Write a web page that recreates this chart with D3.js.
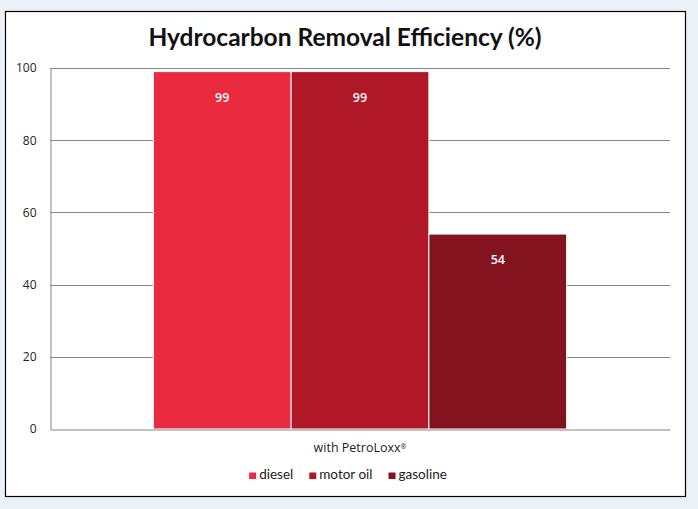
<!DOCTYPE html>
<html><head><meta charset="utf-8">
<script src="https://cdn.jsdelivr.net/npm/d3@7"></script>
<style>
html,body{margin:0;padding:0;background:#eaf1f7;}
svg{display:block;}
</style></head>
<body>
<script>
const categories = ["with PetroLoxx®"];
const seriesNames = ["diesel", "motor oil", "gasoline"];
const seriesValues = [99, 99, 54];
const seriesColors = ["#ea2a3f", "#b01727", "#83131f"];
const yTicks = [0, 20, 40, 60, 80, 100];
const title = "Hydrocarbon Removal Efficiency (%)";

const W = 698, H = 509;
const svg = d3.select("body").append("svg").attr("width", W).attr("height", H);

// chart frame
svg.append("rect").attr("x", 5.5).attr("y", 11.5).attr("width", 680).attr("height", 485)
  .attr("fill", "#ffffff").attr("stroke", "#000").attr("stroke-width", 1.2);

const plot = {left: 50, right: 670, top: 68, bottom: 429};

const y = d3.scaleLinear().domain([0, 100]).range([plot.bottom, plot.top]);
const x0 = d3.scaleBand().domain(categories).range([plot.left, plot.right]).paddingInner(0).paddingOuter(0.25);
const x1 = d3.scaleBand().domain(seriesNames).range([0, x0.bandwidth()]);

// title
svg.append("text").attr("x", 345).attr("y", 46).attr("text-anchor", "middle")
  .attr("font-family", "Lato, sans-serif").attr("font-weight", "bold").attr("font-size", 24.5)
  .attr("fill", "#111").text(title);

// grid
const grid = svg.append("g");
grid.selectAll("line").data(yTicks.filter(d => d > 0)).join("line")
  .attr("x1", plot.left).attr("x2", plot.right)
  .attr("y1", d => Math.round(y(d)) + 0.5).attr("y2", d => Math.round(y(d)) + 0.5)
  .attr("stroke", "#878787").attr("stroke-width", 1);

// y axis
const yAxis = d3.axisLeft(y).tickValues(yTicks).tickSize(0).tickPadding(14);
const ga = svg.append("g").attr("transform", `translate(${plot.left + 0.5},0)`).call(yAxis);
ga.select(".domain").attr("stroke", "#878787");
ga.selectAll("text").attr("font-family", "'Open Sans', sans-serif").attr("font-size", 12).attr("fill", "#222");

// bars
svg.append("g").selectAll("rect").data(seriesNames.map((s, i) => ({s, v: seriesValues[i], c: seriesColors[i]})))
  .join("rect")
  .attr("x", d => x0(categories[0]) + x1(d.s))
  .attr("y", d => y(d.v))
  .attr("width", x1.bandwidth())
  .attr("height", d => y(0) - y(d.v))
  .attr("fill", d => d.c)
  .attr("stroke", "#ffffff").attr("stroke-width", 1);

// x axis baseline
const xAxis = d3.axisBottom(x0).tickSize(0).tickPadding(14);
const gx = svg.append("g").attr("transform", `translate(0,${Math.round(plot.bottom) + 0.5})`).call(xAxis);
gx.select(".domain").attr("stroke", "#878787");
gx.selectAll("text")
  .attr("font-family", "'Open Sans', sans-serif").attr("font-size", 12.5).attr("fill", "#222")
  .each(function(d) {
    const t = d3.select(this);
    const base = d.replace("®", "");
    t.text(base);
    if (d.includes("®")) t.append("tspan").attr("font-size", 7).attr("dy", "-0.5em").text("®");
  });

// value labels
svg.append("g").selectAll("text").data(seriesNames.map((s, i) => ({s, v: seriesValues[i]})))
  .join("text")
  .attr("x", d => x0(categories[0]) + x1(d.s) + x1.bandwidth() / 2)
  .attr("y", d => y(d.v) + 26)
  .attr("dy", "0.35em")
  .attr("text-anchor", "middle")
  .attr("font-family", "'Open Sans', sans-serif").attr("font-weight", "600").attr("font-size", 12.5)
  .attr("fill", "#ffffff").text(d => d.v);

// legend
const items = [];
let lx = 0;
const tmp = svg.append("g");
seriesNames.forEach((s, i) => {
  const t = tmp.append("text").attr("font-family", "Lato, sans-serif").attr("font-size", 13.5).text(s);
  const w = t.node().getComputedTextLength();
  items.push({s, c: seriesColors[i], x: lx, w});
  lx += 10 + w + 16;
});
tmp.remove();
const totalW = lx - 16;
const lg = svg.append("g").attr("transform", `translate(${348 - totalW / 2},479)`);
lg.selectAll("rect").data(items).join("rect")
  .attr("x", d => d.x).attr("y", -6.5).attr("width", 7).attr("height", 6.5).attr("fill", d => d.c);
lg.selectAll("text").data(items).join("text")
  .attr("x", d => d.x + 10).attr("y", 0)
  .attr("font-family", "Lato, sans-serif").attr("font-size", 13.5).attr("fill", "#222").text(d => d.s);
</script>
</body></html>
